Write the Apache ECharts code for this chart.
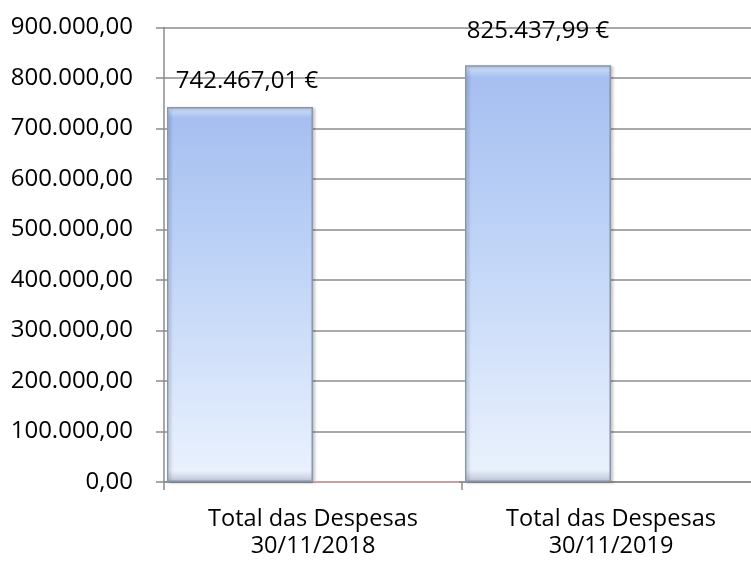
<!DOCTYPE html>
<html>
<head>
<meta charset="utf-8">
<script src="https://cdn.jsdelivr.net/npm/echarts@6/dist/echarts.min.js"></script>
<style>
  html, body { margin: 0; padding: 0; background: #fff; overflow: hidden; }
  #chart { width: 760px; height: 563px; }
</style>
</head>
<body>
<div id="chart"></div>
<script>
// dados
const categories = ['Total das Despesas\n30/11/2018', 'Total das Despesas\n30/11/2019']
const totalDespesas = [742467.01, 825437.99]
const outraSerie = [0, null]

// ajuste dos rotulos (como no original)
const labelOffsets = [[7, 4], [0, -4]]

// formato pt: 900.000,00
function fmtNum(v) {
  const parts = Number(v).toFixed(2).split('.')
  parts[0] = parts[0].replace(/\B(?=(\d{3})+(?!\d))/g, '.')
  return parts[0] + ',' + parts[1]
}

const font = 'Open Sans'
const gridColor = '#8c8c8c'

const barData = totalDespesas.map((v, i) => ({ value: v, label: { offset: labelOffsets[i] } }))

// o grafico original passa um pouco da margem direita
const myChart = echarts.init(document.getElementById('chart'))
const options = {
  animation: false,
  grid: { left: 164, right: 0, top: 27.5, bottom: 81 },
  xAxis: {
    type: 'category',
    data: categories,
    axisLine: { lineStyle: { color: gridColor, width: 1.5 } },
    axisTick: { show: true, length: 8, lineStyle: { color: gridColor, width: 1.5 } },
    axisLabel: { color: '#000', fontFamily: font, fontSize: 23.5, lineHeight: 27, margin: 24 }
  },
  yAxis: {
    type: 'value',
    min: 0,
    max: 900000,
    interval: 100000,
    axisLine: { show: true, lineStyle: { color: gridColor, width: 1.5 } },
    axisTick: { show: true, length: 8, lineStyle: { color: gridColor, width: 1.5 } },
    splitLine: { lineStyle: { color: gridColor, width: 1.5 } },
    axisLabel: { color: '#000', fontFamily: font, fontSize: 24, margin: 31, formatter: fmtNum }
  },
  series: [
    {
      type: 'bar',
      data: barData,
      barGap: '0%',
      barCategoryGap: '2%',
      itemStyle: {
        color: new echarts.graphic.LinearGradient(0, 0, 0, 1, [
          { offset: 0, color: '#d6e4fb' },
          { offset: 0.03, color: '#a6bff0' },
          { offset: 0.35, color: '#bad0f6' },
          { offset: 0.97, color: '#e9f1fd' },
          { offset: 1, color: '#b9c4d6' }
        ]),
        borderColor: '#8795ad',
        borderWidth: 1.5,
        shadowColor: 'rgba(0,0,0,0.25)',
        shadowBlur: 3,
        shadowOffsetX: 2,
        shadowOffsetY: 1
      },
      label: {
        show: true,
        position: 'top',
        distance: 18,
        color: '#000',
        fontFamily: font,
        fontSize: 24,
        formatter: p => fmtNum(p.value) + ' €'
      }
    },
    {
      type: 'bar',
      data: outraSerie,
      itemStyle: { color: '#e3a3a3', borderColor: '#e3a3a3', borderWidth: 1 }
    }
  ]
}
myChart.setOption(options)
window.onresize = myChart.resize
</script>
</body>
</html>
